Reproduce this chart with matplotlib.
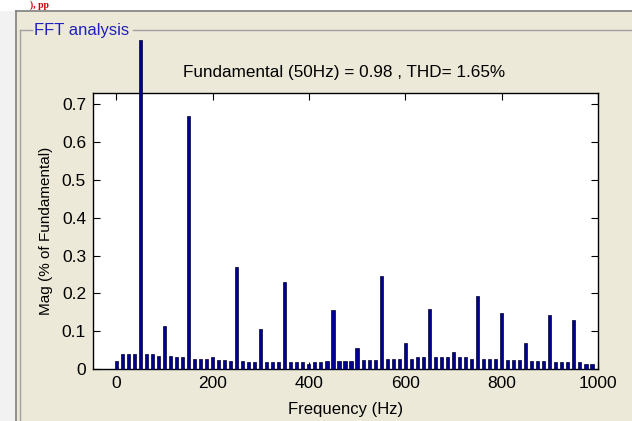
import numpy as np
import matplotlib
matplotlib.use("Agg")
import matplotlib.pyplot as plt
from matplotlib.lines import Line2D
from matplotlib.patches import Rectangle

# ---- data ----
freq_step = 12.5
freqs = np.arange(0, 1000, freq_step)
mags = [0.021, 0.039, 0.039, 0.039, 0.87, 0.039, 0.039, 0.035,
        0.113, 0.035, 0.032, 0.032, 0.668, 0.027, 0.027, 0.027,
        0.032, 0.025, 0.023, 0.021, 0.270, 0.021, 0.018, 0.018,
        0.105, 0.018, 0.018, 0.018, 0.231, 0.018, 0.018, 0.018,
        0.012, 0.018, 0.018, 0.021, 0.157, 0.021, 0.021, 0.021,
        0.055, 0.025, 0.025, 0.025, 0.247, 0.027, 0.027, 0.027,
        0.070, 0.027, 0.032, 0.032, 0.160, 0.032, 0.032, 0.032,
        0.045, 0.032, 0.032, 0.027, 0.194, 0.027, 0.027, 0.027,
        0.149, 0.025, 0.025, 0.025, 0.070, 0.021, 0.021, 0.021,
        0.144, 0.018, 0.018, 0.018, 0.129, 0.018, 0.014, 0.014]
xticks = [0, 200, 400, 600, 800, 1000]
yticks = [0, 0.1, 0.2, 0.3, 0.4, 0.5, 0.6, 0.7]
ytick_labels = ["0", "0.1", "0.2", "0.3", "0.4", "0.5", "0.6", "0.7"]
title = "Fundamental (50Hz) = 0.98 , THD= 1.65%"
xlabel = "Frequency (Hz)"
ylabel = "Mag (% of Fundamental)"
panel_title = "FFT analysis"
caption_fragment = "), pp"

W, H = 632, 421
BG = "#ECE9D8"
plt.rcParams['font.family'] = ['Liberation Sans', 'DejaVu Sans']

fig = plt.figure(figsize=(W / 100, H / 100), dpi=100, facecolor=BG)

def fx(px):
    return px / W

def fy(py):
    return 1 - py / H

# decorations: top white strip, left light margin
fig.add_artist(Rectangle((0, fy(11)), 1, 11 / H, transform=fig.transFigure,
                         facecolor="white", edgecolor="none", zorder=0))
fig.add_artist(Rectangle((0, 0), fx(16), fy(11), transform=fig.transFigure,
                         facecolor="#F2F2F2", edgecolor="none", zorder=0))
fig.text(fx(30), fy(5), caption_fragment, color="#CC0000", fontsize=7, fontweight="bold",
         family="Liberation Serif", va="center", ha="left")
fig.add_artist(Line2D([fx(16), 1], [fy(11), fy(11)], color="#7F7F7F", lw=1.2, transform=fig.transFigure))
fig.add_artist(Line2D([fx(16), fx(16)], [0, fy(11)], color="#7F7F7F", lw=1.2, transform=fig.transFigure))
fig.add_artist(Line2D([fx(20), fx(32)], [fy(30), fy(30)], color="#A0A0A0", lw=1.0, transform=fig.transFigure))
fig.add_artist(Line2D([fx(133), 1], [fy(30), fy(30)], color="#A0A0A0", lw=1.0, transform=fig.transFigure))
fig.add_artist(Line2D([fx(20), fx(20)], [0, fy(30)], color="#A0A0A0", lw=1.0, transform=fig.transFigure))
fig.text(fx(34), fy(30), panel_title, color="#2020C0", fontsize=12, va="center", ha="left")

ax = fig.add_axes([fx(93), fy(369), fx(598) - fx(93), fy(93) - fy(369)])
ax.set_facecolor("white")

bars = ax.bar(freqs, mags, width=6.5, color="#000090", edgecolor="#000030",
              linewidth=0.5, zorder=3)
for b in bars:
    b.set_clip_on(False)

ax.set_xlim(-48, 1000)
ax.set_ylim(0, 0.73)
ax.set_xticks(xticks)
ax.set_yticks(yticks)
ax.set_yticklabels(ytick_labels)
ax.tick_params(direction="in", top=True, right=True, length=5, width=0.8,
               labelsize=12.5, pad=5, colors="black")
for s in ax.spines.values():
    s.set_linewidth(1.0)
    s.set_color("black")

ax.set_xlabel(xlabel, fontsize=12, labelpad=8)
ax.set_ylabel(ylabel, fontsize=11, labelpad=6)
fig.text(fx(344), fy(73), title, fontsize=12.3, ha="center", va="center")

fig.savefig("out.png", dpi=100, facecolor=BG)
